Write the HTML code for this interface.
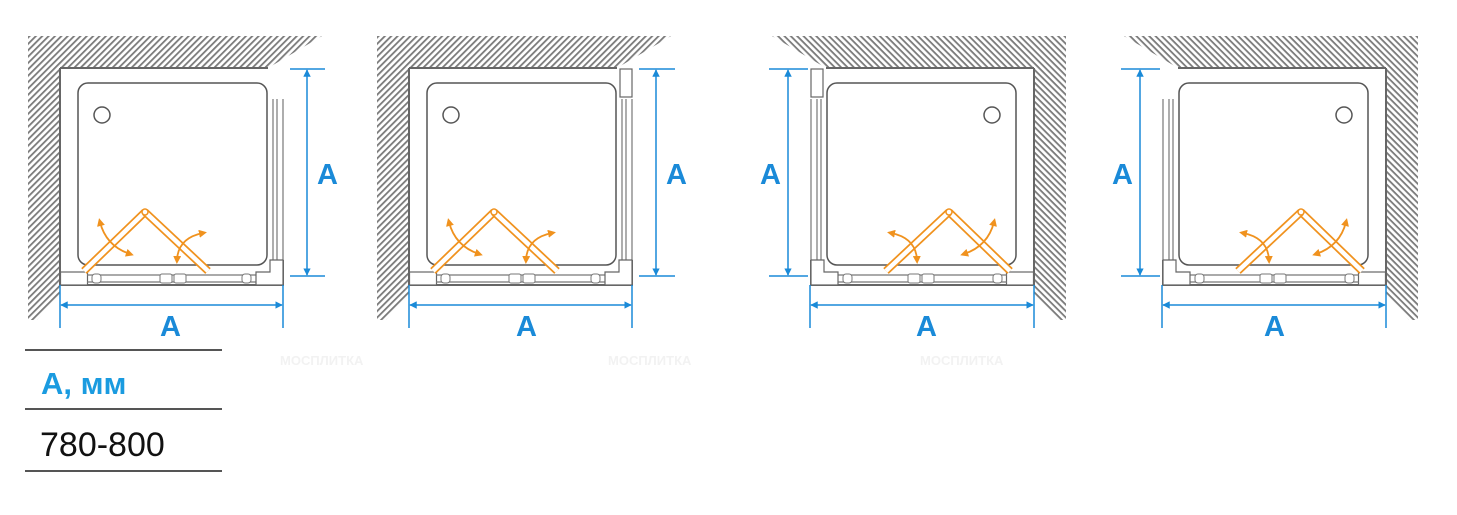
<!DOCTYPE html>
<html><head><meta charset="utf-8"><style>
html,body{margin:0;padding:0;background:#fff;width:1457px;height:515px;overflow:hidden}
svg{display:block}
.lbl{font-family:"Liberation Sans",sans-serif;font-weight:bold;fill:#1a8ad8;font-size:29px}
</style></head><body>
<svg width="1457" height="515" viewBox="0 0 1457 515" xmlns="http://www.w3.org/2000/svg">
<defs>
<pattern id="h" width="4.5" height="4.5" patternUnits="userSpaceOnUse" patternTransform="rotate(45)">
<rect width="4.5" height="4.5" fill="#fff"/><rect width="1.8" height="4.5" fill="#7a7a7a"/>
</pattern>
<marker id="ar" viewBox="0 0 10 10" refX="5" refY="5" markerWidth="8" markerHeight="8" markerUnits="userSpaceOnUse" orient="auto-start-reverse"><path d="M0,0 L10,5 L0,10z" fill="#f0921e"/></marker>
<marker id="ba" viewBox="0 0 10 10" refX="9" refY="5" markerWidth="5" markerHeight="5" orient="auto-start-reverse"><path d="M0,0 L10,5 L0,10z" fill="#1a8ad8"/></marker>
<g id="d">
<polygon points="-32,-32 262,-32 208,0 0,0 0,227 -23,252 -32,252" fill="url(#h)"/>
<path d="M0,0 H208 M0,0 V217 H223 V192" fill="none" stroke="#666" stroke-width="2"/>
<rect x="18" y="15" width="189" height="182" rx="10" fill="none" stroke="#555" stroke-width="1.5"/>
<circle cx="42" cy="47" r="8" fill="#fff" stroke="#555" stroke-width="1.5"/>
<path d="M213,31 V192 M217,31 V192 M223,31 V192" stroke="#777" stroke-width="1.2"/>
<rect x="0.5" y="204" width="27" height="13" fill="#fff" stroke="#666" stroke-width="1.2"/>
<path d="M27,207 H200 M27,214 H200" stroke="#777" stroke-width="1.2"/>
<rect x="32" y="206" width="9" height="9" rx="3" fill="#fff" stroke="#777"/>
<rect x="100" y="206" width="12" height="9" rx="2" fill="#fff" stroke="#777"/>
<rect x="114" y="206" width="12" height="9" rx="2" fill="#fff" stroke="#777"/>
<rect x="182" y="206" width="9" height="9" rx="3" fill="#fff" stroke="#777"/>
<path d="M196,204 H210 V192 H223 V217 H196 Z" fill="#fff" stroke="#666" stroke-width="1.2"/>
<g stroke-linecap="butt">
<line x1="85" y1="144" x2="24" y2="203" stroke="#f0921e" stroke-width="8"/>
<line x1="85" y1="144" x2="24" y2="203" stroke="#fff" stroke-width="4.5"/>
<line x1="85" y1="144" x2="148" y2="203" stroke="#f0921e" stroke-width="8"/>
<line x1="85" y1="144" x2="148" y2="203" stroke="#fff" stroke-width="4.5"/>
<circle cx="85" cy="144" r="3" fill="#fff" stroke="#f0921e" stroke-width="1.5"/>
</g>
<path d="M40,154 Q46,178 70,186" fill="none" stroke="#f0921e" stroke-width="1.8" marker-start="url(#ar)" marker-end="url(#ar)"/>
<path d="M117,192 Q118,170 143,165" fill="none" stroke="#f0921e" stroke-width="1.8" marker-start="url(#ar)" marker-end="url(#ar)"/>
</g>
<g id="blk"><rect x="211" y="1" width="12" height="28" fill="#fff" stroke="#666" stroke-width="1.2"/></g>
</defs>

<g transform="translate(60,68)"><use href="#d"/></g>
<g transform="translate(409,68)"><use href="#d"/><use href="#blk"/></g>
<g transform="translate(1034,68) scale(-1,1)"><use href="#d"/><use href="#blk"/></g>
<g transform="translate(1386,68) scale(-1,1)"><use href="#d"/></g>

<g stroke="#1a8ad8" stroke-width="1.5" fill="none">
<path d="M290,69 H325 M290,276 H325 M60,285 V328 M283,285 V328"/>
<line x1="307" y1="70" x2="307" y2="275" marker-start="url(#ba)" marker-end="url(#ba)"/>
<line x1="61" y1="305" x2="282" y2="305" marker-start="url(#ba)" marker-end="url(#ba)"/>
<path d="M639,69 H675 M639,276 H675 M409,285 V328 M632,285 V328"/>
<line x1="656" y1="70" x2="656" y2="275" marker-start="url(#ba)" marker-end="url(#ba)"/>
<line x1="410" y1="305" x2="631" y2="305" marker-start="url(#ba)" marker-end="url(#ba)"/>
<path d="M769,69 H808 M769,276 H808 M810,285 V328 M1034,285 V328"/>
<line x1="788" y1="70" x2="788" y2="275" marker-start="url(#ba)" marker-end="url(#ba)"/>
<line x1="811" y1="305" x2="1033" y2="305" marker-start="url(#ba)" marker-end="url(#ba)"/>
<path d="M1121,69 H1160 M1121,276 H1160 M1162,285 V328 M1386,285 V328"/>
<line x1="1140" y1="70" x2="1140" y2="275" marker-start="url(#ba)" marker-end="url(#ba)"/>
<line x1="1163" y1="305" x2="1385" y2="305" marker-start="url(#ba)" marker-end="url(#ba)"/>
</g>

<text class="lbl" x="317" y="184">A</text>
<text class="lbl" x="160" y="336">A</text>
<text class="lbl" x="666" y="184">A</text>
<text class="lbl" x="516" y="336">A</text>
<text class="lbl" x="760" y="184">A</text>
<text class="lbl" x="916" y="336">A</text>
<text class="lbl" x="1112" y="184">A</text>
<text class="lbl" x="1264" y="336">A</text>

<g font-family="Liberation Sans,sans-serif" font-size="13" fill="#f2f2f2" font-weight="bold">
<text x="280" y="365">МОСПЛИТКА</text>
<text x="608" y="365">МОСПЛИТКА</text>
<text x="920" y="365">МОСПЛИТКА</text>
</g>

<path d="M25,350 H222 M25,409 H222 M25,471 H222" stroke="#555" stroke-width="2"/>
<text x="41" y="394" font-family="Liberation Sans,sans-serif" font-weight="bold" font-size="31" fill="#1a9be0">А, мм</text>
<text x="40" y="456" font-family="Liberation Sans,sans-serif" font-size="34" fill="#111">780-800</text>
</svg>
</body></html>
